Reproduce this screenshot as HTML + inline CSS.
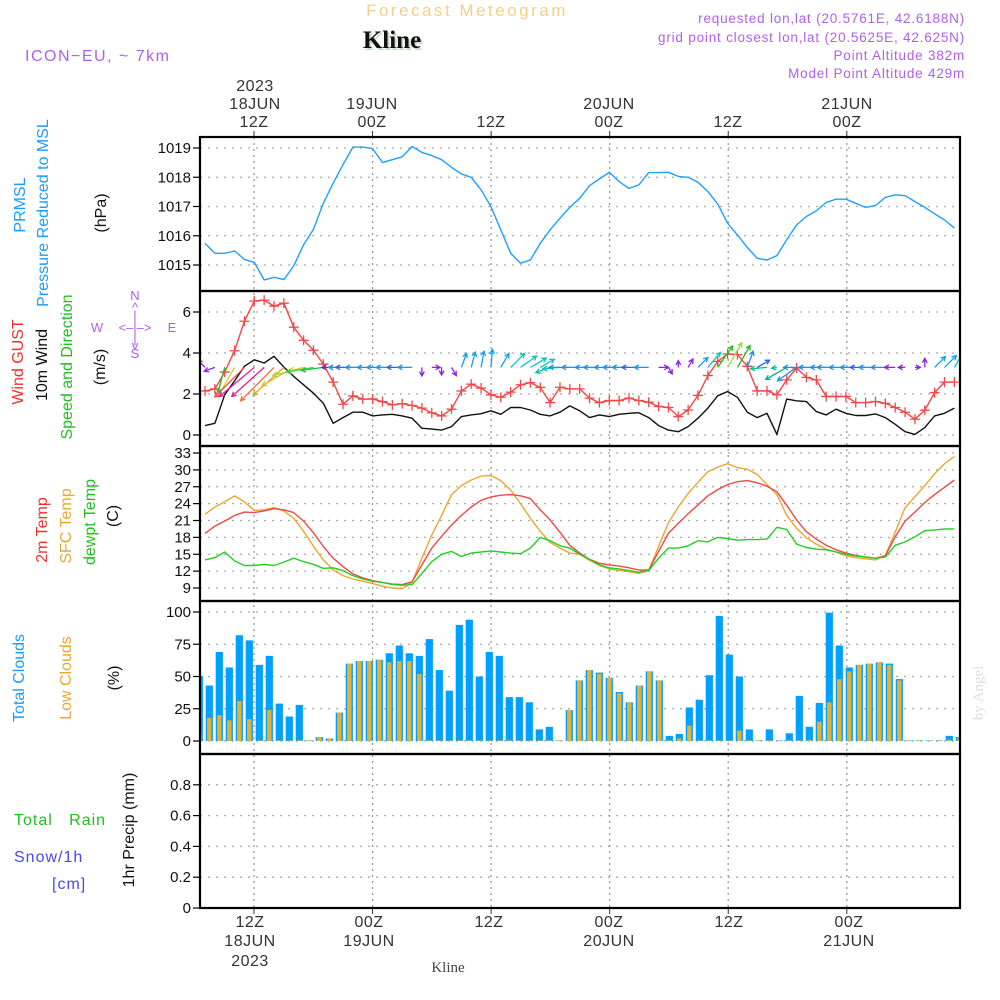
<!DOCTYPE html>
<html><head><meta charset="utf-8"><title>Forecast Meteogram Kline</title>
<style>
html,body{margin:0;padding:0;background:#fff;}
svg{display:block;font-family:"Liberation Sans",sans-serif;}
</style></head>
<body>
<svg id="chart" width="1000" height="1000" viewBox="0 0 1000 1000" xmlns="http://www.w3.org/2000/svg">
<g>
  <text x="467" y="16" text-anchor="middle" font-size="17" fill="#f5cf8a" letter-spacing="2.5">Forecast Meteogram</text>
  <text x="394" y="50" text-anchor="middle" font-size="25" font-weight="bold" font-family="Liberation Serif,serif" fill="#c8dcc8">Kline</text>
  <text x="392" y="48" text-anchor="middle" font-size="25" font-weight="bold" font-family="Liberation Serif,serif" fill="#111">Kline</text>
  <text x="25" y="61" font-size="16" fill="#b060e8" letter-spacing="1.5">ICON−EU, ~ 7km</text>
  <g font-size="13.5" fill="#b060e8" text-anchor="end" letter-spacing="0.8">
    <text x="965" y="23">requested lon,lat (20.5761E, 42.6188N)</text>
    <text x="965" y="42">grid point closest lon,lat (20.5625E, 42.625N)</text>
    <text x="965" y="60">Point Altitude 382m</text>
    <text x="965" y="78">Model Point Altitude 429m</text>
  </g>
</g>
<g font-size="16" fill="#333" text-anchor="middle" letter-spacing="0.5">
  <text x="255" y="91">2023</text><text x="255" y="109">18JUN</text><text x="254" y="127">12Z</text>
  <text x="372" y="109">19JUN</text><text x="372" y="127">00Z</text>
  <text x="491" y="127">12Z</text>
  <text x="609" y="109">20JUN</text><text x="609" y="127">00Z</text>
  <text x="728" y="127">12Z</text>
  <text x="847" y="109">21JUN</text><text x="847" y="127">00Z</text>
</g>
<g font-size="16" fill="#333" text-anchor="middle" letter-spacing="0.5">
  <text x="250" y="927">12Z</text><text x="250" y="946">18JUN</text><text x="250" y="966">2023</text>
  <text x="369" y="927">00Z</text><text x="369" y="946">19JUN</text>
  <text x="489" y="927">12Z</text>
  <text x="609" y="927">00Z</text><text x="609" y="946">20JUN</text>
  <text x="729" y="927">12Z</text>
  <text x="849" y="927">00Z</text><text x="849" y="946">21JUN</text>
</g>
<text x="448" y="972" text-anchor="middle" font-size="15" font-family="Liberation Serif,serif" fill="#444">Kline</text>
<text transform="translate(983,693) rotate(-90)" text-anchor="middle" font-size="15" font-family="Liberation Serif,serif" fill="#ddd">by Angel</text>

<g font-size="16">
  <text transform="translate(25,205) rotate(-90)" text-anchor="middle" fill="#1e9bff">PRMSL</text>
  <text transform="translate(48,213) rotate(-90)" text-anchor="middle" fill="#1e9bff">Pressure Reduced to MSL</text>
  <text transform="translate(106,213) rotate(-90)" text-anchor="middle" fill="#111">(hPa)</text>
  <text transform="translate(23,362) rotate(-90)" text-anchor="middle" fill="#f03030">Wind GUST</text>
  <text transform="translate(47,365) rotate(-90)" text-anchor="middle" fill="#111">10m Wind</text>
  <text transform="translate(72,367) rotate(-90)" text-anchor="middle" fill="#20c020">Speed and Direction</text>
  <text transform="translate(105,367) rotate(-90)" text-anchor="middle" fill="#111">(m/s)</text>
  <g font-size="13" fill="#b060e8" text-anchor="middle">
    <text x="135" y="300">N</text><text x="135" y="312">^</text><text x="135" y="320">|</text>
    <text x="97" y="332">W</text><text x="135" y="332">&lt;–|–&gt;</text><text x="172" y="332">E</text>
    <text x="135" y="343">|</text><text x="135" y="350">v</text><text x="135" y="358">S</text>
  </g>
  <text transform="translate(47,530) rotate(-90)" text-anchor="middle" fill="#f03030">2m Temp</text>
  <text transform="translate(71,526) rotate(-90)" text-anchor="middle" fill="#e8a830">SFC Temp</text>
  <text transform="translate(95,522) rotate(-90)" text-anchor="middle" fill="#20c020">dewpt Temp</text>
  <text transform="translate(118,516) rotate(-90)" text-anchor="middle" fill="#111">(C)</text>
  <text transform="translate(24,678) rotate(-90)" text-anchor="middle" fill="#1e9bff">Total Clouds</text>
  <text transform="translate(71,678) rotate(-90)" text-anchor="middle" fill="#e8a830">Low Clouds</text>
  <text transform="translate(119,678) rotate(-90)" text-anchor="middle" fill="#111">(%)</text>
  <text x="14" y="825" fill="#20c020" letter-spacing="1" xml:space="preserve">Total   Rain</text>
  <text x="14" y="862" fill="#4848f0" letter-spacing="1">Snow/1h</text>
  <text x="52" y="889" fill="#4848f0" letter-spacing="1">[cm]</text>
  <text transform="translate(134,830) rotate(-90)" text-anchor="middle" fill="#111">1hr Precip (mm)</text>
</g>
<g id="plots"></g>
</svg>
<script>
// ---- data (hourly, 18JUN 07Z .. 21JUN 11Z) ----
const pressure = [1015.74,1015.4,1015.4,1015.48,1015.19,1015.09,1014.49,1014.58,1014.5,1014.97,1015.69,1016.22,1017.11,1017.8,1018.43,1019.03,1019.03,1018.98,1018.5,1018.6,1018.7,1019.05,1018.85,1018.74,1018.6,1018.34,1018.11,1018.0,1017.57,1017.0,1016.2,1015.4,1015.06,1015.17,1015.74,1016.2,1016.6,1016.97,1017.28,1017.71,1017.94,1018.17,1017.85,1017.62,1017.74,1018.16,1018.16,1018.17,1018.03,1018.0,1017.83,1017.51,1017.09,1016.43,1016.03,1015.6,1015.23,1015.17,1015.32,1015.86,1016.37,1016.66,1016.85,1017.14,1017.25,1017.25,1017.11,1016.97,1017.03,1017.31,1017.4,1017.37,1017.17,1016.97,1016.75,1016.54,1016.26];
const gust = [2.15,2.25,3.07,4.11,5.55,6.53,6.58,6.29,6.43,5.26,4.62,4.13,3.46,2.58,1.5,1.91,1.75,1.76,1.63,1.47,1.53,1.44,1.31,1.08,0.93,1.26,2.15,2.48,2.29,1.96,1.84,2.09,2.45,2.55,2.32,1.58,2.33,2.25,2.25,1.8,1.58,1.68,1.68,1.8,1.68,1.6,1.39,1.34,0.9,1.22,1.93,2.9,3.59,3.95,3.92,3.35,2.15,2.15,1.96,2.69,3.27,2.81,2.69,1.88,1.88,1.88,1.58,1.58,1.63,1.55,1.34,1.11,0.77,1.21,2.07,2.58,2.58];
const wind = [0.46,0.57,1.96,2.64,3.35,3.67,3.51,3.84,3.31,2.86,2.45,2.04,1.55,0.57,0.85,1.11,1.11,0.93,0.98,1.01,0.93,0.82,0.33,0.29,0.24,0.41,0.9,0.98,1.04,1.18,1.01,1.34,1.34,1.22,1.01,0.93,1.11,1.42,1.18,0.85,0.98,0.9,1.01,1.06,1.09,0.85,0.46,0.24,0.16,0.41,0.82,1.31,1.91,2.12,1.84,1.11,0.85,1.06,0.03,1.75,1.67,1.63,1.14,0.98,1.26,1.06,0.95,0.95,1.03,0.85,0.52,0.16,0.03,0.36,0.93,1.06,1.31];
const windDir = [135,200,255,240,225,220,222,225,222,210,195,190,188,180,180,180,180,180,180,180,180,180,270,0,270,300,70,75,80,85,60,45,35,30,30,200,185,180,180,180,180,180,180,180,180,180,0,300,90,60,45,50,55,60,60,70,30,185,190,210,215,180,180,180,180,180,180,180,180,180,180,180,0,90,45,45,60];
const windColor = ['#9020e0','#9020e0','#20c020','#e0d020','#f05050','#e020a0','#e02090','#f07030','#e0a020','#e0c020','#c0d020','#40d040','#20c040','#6030e0','#2090f0','#3060f0','#2090f0','#2090f0','#2090f0','#2090f0','#3060f0','#2090f0','#9020e0','#9020e0','#9020e0','#9020e0','#10a0f0','#10a0f0','#10a0f0','#10a0f0','#10a0f0','#10c0c0','#10c0c0','#10c0c0','#10c0c0','#10c0a0','#10c0c0','#2090f0','#2090f0','#2090f0','#2090f0','#2090f0','#2090f0','#2090f0','#3060f0','#2090f0','#9020e0','#9020e0','#9020e0','#9020e0','#10a0f0','#10c0c0','#20c020','#90e040','#20c020','#2090f0','#3060f0','#10c090','#10c0a0','#10b090','#2090f0','#2090f0','#2090f0','#2090f0','#2090f0','#2090f0','#2090f0','#3060f0','#2090f0','#2090f0','#9020e0','#9020e0','#9020e0','#9020e0','#10a0f0','#10a0f0','#10c0c0'];
const temp2m = [18.7,20.0,20.9,21.9,22.5,22.4,22.7,23.1,22.9,22.4,20.9,18.8,16.4,14.3,12.8,11.5,10.8,10.3,10.0,9.7,9.6,10.1,13.1,16.1,18.2,20.2,21.9,23.4,24.6,25.2,25.5,25.6,25.4,24.9,22.9,21.1,18.9,16.6,15.2,14.1,13.4,13.1,12.9,12.6,12.2,12.2,15.5,18.7,20.5,22.2,23.8,25.4,26.5,27.4,27.9,28.1,27.7,27.1,26.1,23.7,21.1,19.0,17.7,16.6,15.8,15.2,14.8,14.5,14.3,14.7,18.1,20.9,22.5,24.2,25.6,26.9,28.2];
const tempSfc = [22.1,23.4,24.3,25.4,24.3,22.8,22.9,23.3,22.7,21.4,19.1,16.4,14.0,12.2,11.2,10.6,10.2,9.8,9.3,9.0,8.9,10.0,14.3,18.4,21.9,25.6,27.2,28.2,28.9,29.0,28.1,26.4,24.0,21.4,19.1,17.1,16.1,15.2,15.0,13.9,13.0,12.4,12.1,11.9,11.6,12.1,16.4,20.6,23.4,25.8,27.8,29.7,30.5,31.1,30.4,30.1,29.2,27.4,25.6,21.9,19.6,17.9,16.8,15.9,15.4,14.7,14.4,14.2,14.0,14.8,18.9,23.3,25.2,27.2,29.3,31.1,32.4];
const dewpt = [14.0,14.4,15.4,13.8,13.0,13.0,13.2,13.0,13.6,14.3,13.7,13.2,12.5,12.6,12.1,11.2,10.6,10.2,10.0,9.6,9.5,9.6,11.6,13.7,15.0,15.5,14.6,15.2,15.4,15.6,15.4,15.2,15.1,16.1,18.0,17.4,16.5,16.1,15.0,14.1,13.1,12.6,12.4,12.1,11.8,12.1,14.3,16.1,16.1,16.5,17.4,17.2,18.0,17.8,17.5,17.6,17.6,17.7,19.8,19.4,16.8,16.2,15.9,15.8,15.4,15.0,14.7,14.5,14.3,14.5,16.6,17.2,18.1,19.2,19.3,19.5,19.5];
const totalClouds = [50.5,43,69,57,82,78,59,66,29,19,28,0.5,3,2,22,60,62,62,63,68,74,68,66,79,55,39,90,94,50,69,66,34,34,30,9,11,0.5,24,47,55,53,49,38,30,43,54,47,4,5.5,26,32,51,97,67,50,9,0.5,9,0.5,6,35,11,29.5,99.5,74,57,59,60,61,60,48,0.5,0.5,0.5,0.5,4,3];
const lowClouds = [7,18,20,16,31,17,0.5,24,0.5,0.5,0.5,0.5,3,2,22,60,62,62,63,61,62,62,52,0.5,0.5,0.5,0.5,0.5,0.5,0.5,0.5,0.5,0.5,0.5,0.5,0.5,0.5,24,47,55,52,49,37,30,43,54,47,0.5,2,12,0.5,0.5,0.5,0.5,8,0.5,0.5,0.5,0.5,0.5,0.5,1,15,30,48,54,59,60,61,59,47,0.5,0.5,0.5,0.5,1,2];
const pTicks = [1015,1016,1017,1018,1019];
const wTicks = [0,2,4,6];
const tTicks = [9,12,15,18,21,24,27,30,33];
const cTicks = [0,25,50,75,100];
const rTicks = [0,0.2,0.4,0.6,0.8];
const rTickLabels = ['0','0.2','0.4','0.6','0.8'];
const timeLines = [12,24,36,48,60,72]; // hours since 18JUN 00Z

// ---- scales ----
const X0 = 200, X1 = 960;
const xL = i => 205 + i * 9.86;
const xB = j => 199.3 + j * 10;
const xT = h => 254 + (h - 12) * 9.88;
const yP = p => 148 + (1019 - p) * 29.25;
const yW = w => 435 - w * 20.5;
const yT = t => 588 - (t - 9) * 5.625;
const yC = c => 741 - c * 1.29;
const yR = r => 908 - r * 154;
const panels = [[137,291],[291,446],[446,601],[601,754],[754,908]];

const NS = 'http://www.w3.org/2000/svg';
const root = document.getElementById('plots');
function mk(tag, attrs, parent) {
  const e = document.createElementNS(NS, tag);
  for (const k in attrs) e.setAttribute(k, attrs[k]);
  (parent || root).appendChild(e);
  return e;
}
const clip = mk('clipPath', {id: 'plotclip'});
mk('rect', {x: X0, y: 137, width: X1 - X0, height: 771}, clip);

const grid = mk('g', {});


function hgrid(ticks, yf, labels, nm) {
  const g = mk('g', {});
  
  
  ticks.forEach((v, k) => {
    const y = yf(v);
    mk('line', {x1: X0, x2: X1, y1: y, y2: y, stroke: '#aaa', 'stroke-width': 1.3, 'stroke-dasharray': '2,6'}, grid);
    mk('line', {x1: X0 - 7, x2: X0, y1: y, y2: y, stroke: '#000', 'stroke-width': 1.2}, g);
    const t = mk('text', {x: X0 - 9, y: y + 5, 'text-anchor': 'end', 'font-size': 15, fill: '#111'}, g);
    t.textContent = labels ? labels[k] : String(v);
  });
}
hgrid(pTicks, yP, null, 'pressure-y-axis');
hgrid(wTicks, yW, null, 'wind-y-axis');
hgrid(tTicks, yT, null, 'temp-y-axis');
hgrid(cTicks, yC, null, 'clouds-y-axis');
hgrid(rTicks, yR, rTickLabels, 'precip-y-axis');
timeLines.forEach(h => {
  const x = xT(h);
  mk('line', {x1: x, x2: x, y1: 137, y2: 908, stroke: '#999', 'stroke-width': 1.3, 'stroke-dasharray': '2,4'}, grid);
  mk('line', {x1: x, x2: x, y1: 131, y2: 137, stroke: '#333', 'stroke-width': 1}, grid);
  mk('line', {x1: x, x2: x, y1: 908, y2: 914, stroke: '#333', 'stroke-width': 1}, grid);
});

function polyline(vals, yf, color, nm) {
  const pts = vals.map((v, i) => xL(i).toFixed(1) + ',' + yf(v).toFixed(1)).join(' ');
  const p = mk('polyline', {points: pts, fill: 'none', stroke: color, 'stroke-width': 1.4, 'stroke-linejoin': 'round', 'clip-path': 'url(#plotclip)'});
  
  
  return p;
}

polyline(pressure, yP, '#1ea0ff', 'pressure-line');

polyline(wind, yW, '#111', 'wind-speed-line');
polyline(gust, yW, '#f04848', 'wind-gust-line');
const gm = mk('g', {stroke: '#f04848', 'stroke-width': 1.3});


gust.forEach((v, i) => {
  const x = xL(i), y = yW(v);
  const m = mk('path', {d: `M${x-5},${y}H${x+5}M${x},${y-5}V${y+5}`}, gm);
  
  
});

const ag = mk('g', {'stroke-width': 1.3, fill: 'none', 'clip-path': 'url(#plotclip)'});


const arrowBase = yW(3.3);
windDir.forEach((d, i) => {
  const len = 5 + 11 * wind[i];
  const a = d * Math.PI / 180;
  const x0 = xL(i), y0 = arrowBase;
  const x1 = x0 + Math.cos(a) * len, y1 = y0 - Math.sin(a) * len;
  const h = 5, s = 0.5;
  const hx1 = x1 - Math.cos(a - s) * h, hy1 = y1 + Math.sin(a - s) * h;
  const hx2 = x1 - Math.cos(a + s) * h, hy2 = y1 + Math.sin(a + s) * h;
  const ar = mk('path', {d: `M${x0.toFixed(1)},${y0.toFixed(1)}L${x1.toFixed(1)},${y1.toFixed(1)}M${hx1.toFixed(1)},${hy1.toFixed(1)}L${x1.toFixed(1)},${y1.toFixed(1)}L${hx2.toFixed(1)},${hy2.toFixed(1)}`, stroke: windColor[i]}, ag);
  
  
});

polyline(tempSfc, yT, '#e8a830', 'sfc-temp-line');
polyline(temp2m, yT, '#f04848', 'temp-2m-line');
polyline(dewpt, yT, '#20d020', 'dewpoint-line');

const cg = mk('g', {'clip-path': 'url(#plotclip)'});


totalClouds.forEach((v, j) => {
  const x = xB(j);
  const b = mk('rect', {x: x - 3.6, y: yC(v), width: 7.2, height: yC(0) - yC(v), fill: '#00a0ff'}, cg);
  
  
});
lowClouds.forEach((v, j) => {
  const x = xB(j);
  const b = mk('rect', {x: x - 2.2, y: yC(v), width: 4.4, height: yC(0) - yC(v), fill: '#e8b030'}, cg);
  
  
});

const fr = mk('g', {fill: 'none', stroke: '#000', 'stroke-width': 2.2});


panels.forEach(p => {
  mk('rect', {x: X0, y: p[0], width: X1 - X0, height: p[1] - p[0]}, fr);
});
</script>
</body></html>
